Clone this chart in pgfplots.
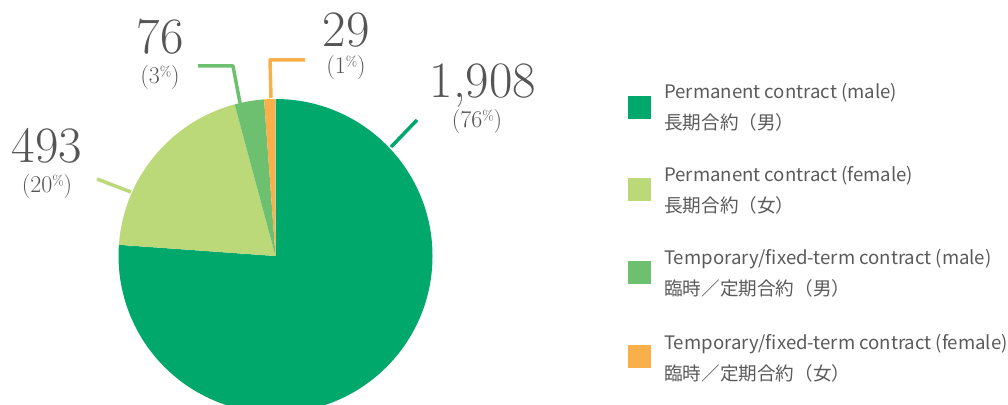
\documentclass[border=0pt]{standalone}
\usepackage{fontspec}
\usepackage{pgfplots}
\pgfplotsset{compat=1.18}
\newfontfamily\cjk{Noto Sans CJK JP}
\definecolor{pmale}{RGB}{0,168,107}
\definecolor{pfemale}{RGB}{188,217,121}
\definecolor{tmale}{RGB}{108,192,112}
\definecolor{tfemale}{RGB}{249,176,74}
\definecolor{txt}{RGB}{85,85,85}
\definecolor{legtxt}{RGB}{90,90,90}

% headcounts
\def\va{1908}
\def\vb{493}
\def\vc{76}
\def\vd{29}

\newcommand{\bignum}[1]{{\fontsize{51}{51}\selectfont #1}}
\newcommand{\pct}[1]{{\fontsize{24}{24}\selectfont (#1\raisebox{0.3em}{\fontsize{14}{14}\selectfont\%})}}

\begin{document}
\begin{tikzpicture}
\useasboundingbox (0,0) rectangle (1008pt,404pt);
\pgfmathsetmacro\tot{\va+\vb+\vc+\vd}
\pgfmathsetmacro\aA{90-360*(\va/\tot)}
\pgfmathsetmacro\aB{\aA-360*(\vb/\tot)}
\pgfmathsetmacro\aC{\aB-360*(\vc/\tot)}
\pgfmathsetmacro\aD{\aC-360*(\vd/\tot)}
\def\cx{275.5}
\def\cy{148}
\def\r{157}
\begin{axis}[x=1pt, y=1pt, xmin=0, xmax=1008, ymin=0, ymax=404,
  hide axis, clip=true, anchor=origin, at={(0,0)}]
% pie slices
\fill[pmale]   (axis cs:\cx,\cy) -- ++(90:\r pt)  arc[start angle=90,  end angle=\aA, radius=\r pt] -- cycle;
\fill[pfemale] (axis cs:\cx,\cy) -- ++(\aA:\r pt) arc[start angle=\aA, end angle=\aB, radius=\r pt] -- cycle;
\fill[tmale]   (axis cs:\cx,\cy) -- ++(\aB:\r pt) arc[start angle=\aB, end angle=\aC, radius=\r pt] -- cycle;
\fill[tfemale] (axis cs:\cx,\cy) -- ++(\aC:\r pt) arc[start angle=\aC, end angle=\aD, radius=\r pt] -- cycle;

% leader lines
\draw[pmale, line width=3.5pt] (axis cs:391,257) -- (axis cs:417,284);
\draw[pfemale, line width=3.5pt] (axis cs:97,225) -- (axis cs:131,212);
\draw[tmale, line width=3.5pt, line join=round] (axis cs:198,338) -- (axis cs:233,338) -- (axis cs:240,301);
\draw[tfemale, line width=3.5pt, line join=round] (axis cs:305,344) -- (axis cs:270,344) -- (axis cs:271,306);

% value labels
\node[txt, anchor=base] at (axis cs:483,306) {\bignum{1,908}};
\node[txt, anchor=base] at (axis cs:477,276) {\pct{76}};
\node[txt, anchor=base] at (axis cs:47,241) {\bignum{493}};
\node[txt, anchor=base] at (axis cs:47,211) {\pct{20}};
\node[txt, anchor=base] at (axis cs:160,350) {\bignum{76}};
\node[txt, anchor=base] at (axis cs:160,320) {\pct{3}};
\node[txt, anchor=base] at (axis cs:346,357) {\bignum{29}};
\node[txt, anchor=base] at (axis cs:346,330) {\pct{1}};

% legend
\fill[pmale]   (axis cs:628,285) rectangle (axis cs:651,308);
\fill[pfemale] (axis cs:628,203) rectangle (axis cs:651,226);
\fill[tmale]   (axis cs:628,120) rectangle (axis cs:651,143);
\fill[tfemale] (axis cs:628,36)  rectangle (axis cs:651,59);
\begin{scope}[every node/.style={legtxt, anchor=base west, inner sep=0pt, font=\cjk\fontsize{18.6}{18.6}\selectfont}]
\node at (axis cs:664,305) {Permanent contract (male)};
\node at (axis cs:664,274) {長期合約（男）};
\node at (axis cs:664,222) {Permanent contract (female)};
\node at (axis cs:664,191) {長期合約（女）};
\node at (axis cs:664,139) {Temporary/fixed-term contract (male)};
\node at (axis cs:664,108) {臨時／定期合約（男）};
\node at (axis cs:664,55)  {Temporary/fixed-term contract (female)};
\node at (axis cs:664,24)  {臨時／定期合約（女）};
\end{scope}
\end{axis}
\end{tikzpicture}
\end{document}
